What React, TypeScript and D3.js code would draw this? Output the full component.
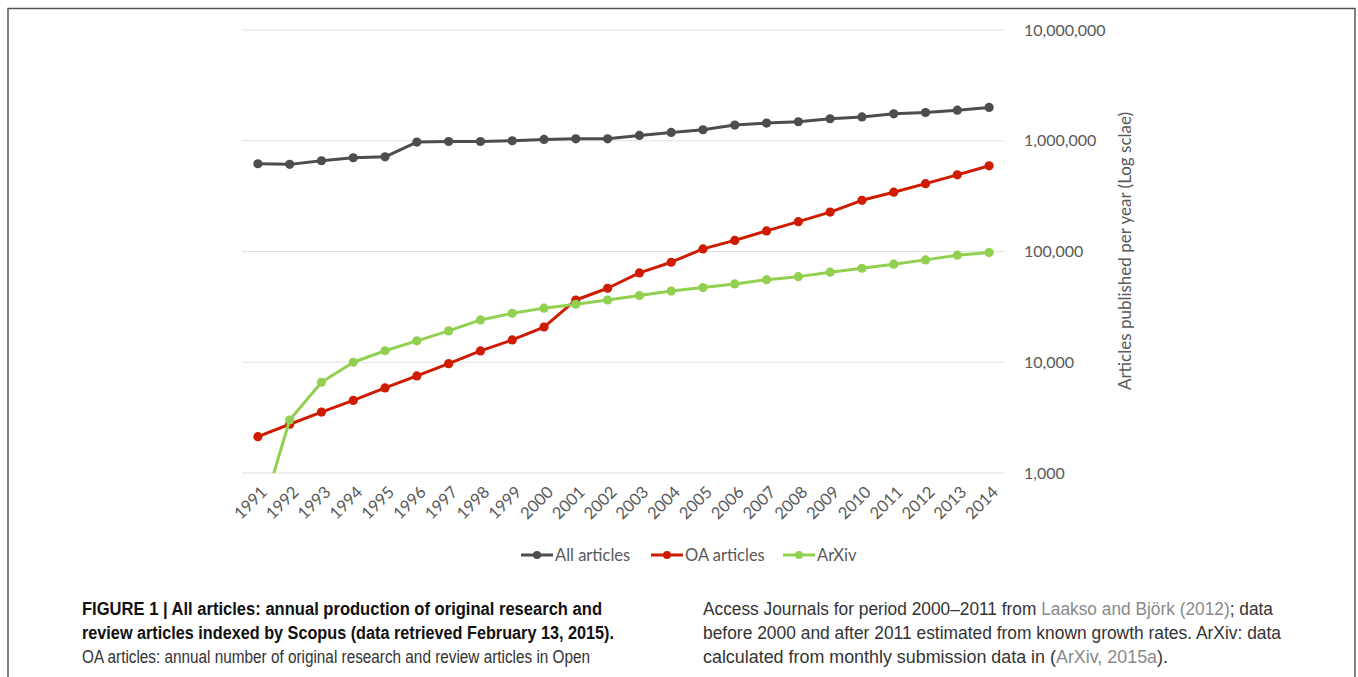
import React from "react";
import * as d3 from "d3";

const years = ["1991","1992","1993","1994","1995","1996","1997","1998","1999","2000","2001","2002","2003","2004","2005","2006","2007","2008","2009","2010","2011","2012","2013","2014"];
const allArticles = [620000, 612000, 660000, 702000, 716000, 973000, 985000, 985000, 1000000, 1027000, 1040000, 1040000, 1117000, 1190000, 1257000, 1386000, 1445000, 1485000, 1580000, 1640000, 1750000, 1800000, 1890000, 2000000];
const oaArticles = [2130, 2755, 3550, 4520, 5860, 7520, 9700, 12650, 15900, 20800, 36500, 46600, 64100, 80000, 105500, 126000, 153500, 186000, 227000, 290000, 343000, 410000, 492000, 594000];
const arxiv = [330, 3010, 6600, 10000, 12700, 15600, 19200, 24100, 27700, 30800, 33400, 36500, 40000, 44000, 47200, 51000, 55700, 59300, 65000, 70600, 76800, 84000, 92600, 97700];
const yTicks = [1000, 10000, 100000, 1000000, 10000000];

const seriesNames = ["All articles", "OA articles", "ArXiv"];
const seriesColors = ["#4d4d4d", "#cf1b00", "#92d050"];
const seriesData = [allArticles, oaArticles, arxiv];

const captionLeft = [
  [{ t: "FIGURE 1 | All articles: annual production of original research and", link: false }],
  [{ t: "review articles indexed by Scopus (data retrieved February 13, 2015).", link: false }],
  [{ t: "OA articles: annual number of original research and review articles in Open", link: false }],
];
const captionRight = [
  [{ t: "Access Journals for period 2000–2011 from ", link: false }, { t: "Laakso and Björk (2012)", link: true }, { t: "; data", link: false }],
  [{ t: "before 2000 and after 2011 estimated from known growth rates. ArXiv: data", link: false }],
  [{ t: "calculated from monthly submission data in (", link: false }, { t: "ArXiv, 2015a", link: true }, { t: ").", link: false }],
];
const leftLengths = [520, 532, 508];
const rightLengths = [570, 578, 465];

export default function App() {
  const left = 242, right = 1005, top = 30, bottom = 473;
  const x = d3.scaleBand<string>().domain(years).range([left, right]);
  const cx = (yr: string) => (x(yr) as number) + x.bandwidth() / 2;
  const y = d3.scaleLog().domain([1000, 10000000]).range([bottom, top]);
  const fmt = d3.format(",");
  const line = d3.line<number>().x((_, i) => cx(years[i])).y((v) => y(v));
  const chartFont = "Lato, 'Open Sans', sans-serif";
  const capFont = "'Liberation Sans', Arial, sans-serif";

  const legendItems = [
    { x0: 521, tx: 555 },
    { x0: 651, tx: 685 },
    { x0: 783, tx: 817 },
  ];

  return (
    <svg width={1358} height={677} style={{ position: "absolute", left: 0, top: 0, background: "#fff" }}>
      <defs>
        <clipPath id="plotClip">
          <rect x={left - 10} y={top - 20} width={right - left + 20} height={bottom - top + 20} />
        </clipPath>
      </defs>
      <rect x={8} y={8.5} width={1347} height={700} fill="#fff" stroke="#555" strokeWidth={1.5} />
      {yTicks.map((t) => (
        <line key={t} x1={left} x2={right} y1={y(t)} y2={y(t)} stroke="#e2e2e2" strokeWidth={1.2} />
      ))}
      {yTicks.map((t) => (
        <text key={"l" + t} x={1024} y={y(t)} dy="0.35em" fontFamily={chartFont} fontSize={16} fill="#595959">
          {fmt(t)}
        </text>
      ))}
      <text
        transform={`translate(1131,251) rotate(-90)`}
        textAnchor="middle"
        fontFamily={chartFont}
        fontSize={17}
        fill="#595959"
      >
        Articles published per year (Log sclae)
      </text>
      {years.map((yr) => (
        <text
          key={yr}
          transform={`translate(${cx(yr) + 2},${bottom + 12}) rotate(-45)`}
          textAnchor="end"
          dy="0.7em"
          fontFamily={chartFont}
          fontSize={16.5}
          fill="#595959"
        >
          {yr}
        </text>
      ))}
      <g clipPath="url(#plotClip)">
        {seriesData.map((data, si) => (
          <g key={si}>
            <path d={line(data) as string} fill="none" stroke={seriesColors[si]} strokeWidth={3} strokeLinejoin="round" />
            {data.map((v, i) => (
              <circle key={i} cx={cx(years[i])} cy={y(v)} r={4.6} fill={seriesColors[si]} />
            ))}
          </g>
        ))}
      </g>
      {legendItems.map((it, i) => (
        <g key={i}>
          <line x1={it.x0} x2={it.x0 + 32} y1={555} y2={555} stroke={seriesColors[i]} strokeWidth={3} />
          <circle cx={it.x0 + 16} cy={555} r={4} fill={seriesColors[i]} />
          <text x={it.tx} y={555} dy="0.35em" fontFamily={chartFont} fontSize={16.5} fill="#595959">
            {seriesNames[i]}
          </text>
        </g>
      ))}
      {captionLeft.map((ln, li) => (
        <text
          key={"cl" + li}
          x={82}
          y={615 + li * 24}
          fontFamily={capFont}
          fontSize={17.5}
          fontWeight={li < 2 ? "bold" : "normal"}
          fill={li < 2 ? "#111" : "#333"}
          textLength={leftLengths[li]}
          lengthAdjust="spacingAndGlyphs"
        >
          {ln.map((s, k) => (
            <tspan key={k} fill={s.link ? "#8a8a8a" : undefined}>{s.t}</tspan>
          ))}
        </text>
      ))}
      {captionRight.map((ln, li) => (
        <text
          key={"cr" + li}
          x={703}
          y={615 + li * 24}
          fontFamily={capFont}
          fontSize={17.5}
          fill="#333"
          textLength={rightLengths[li]}
          lengthAdjust="spacingAndGlyphs"
        >
          {ln.map((s, k) => (
            <tspan key={k} fill={s.link ? "#8a8a8a" : undefined}>{s.t}</tspan>
          ))}
        </text>
      ))}
    </svg>
  );
}
